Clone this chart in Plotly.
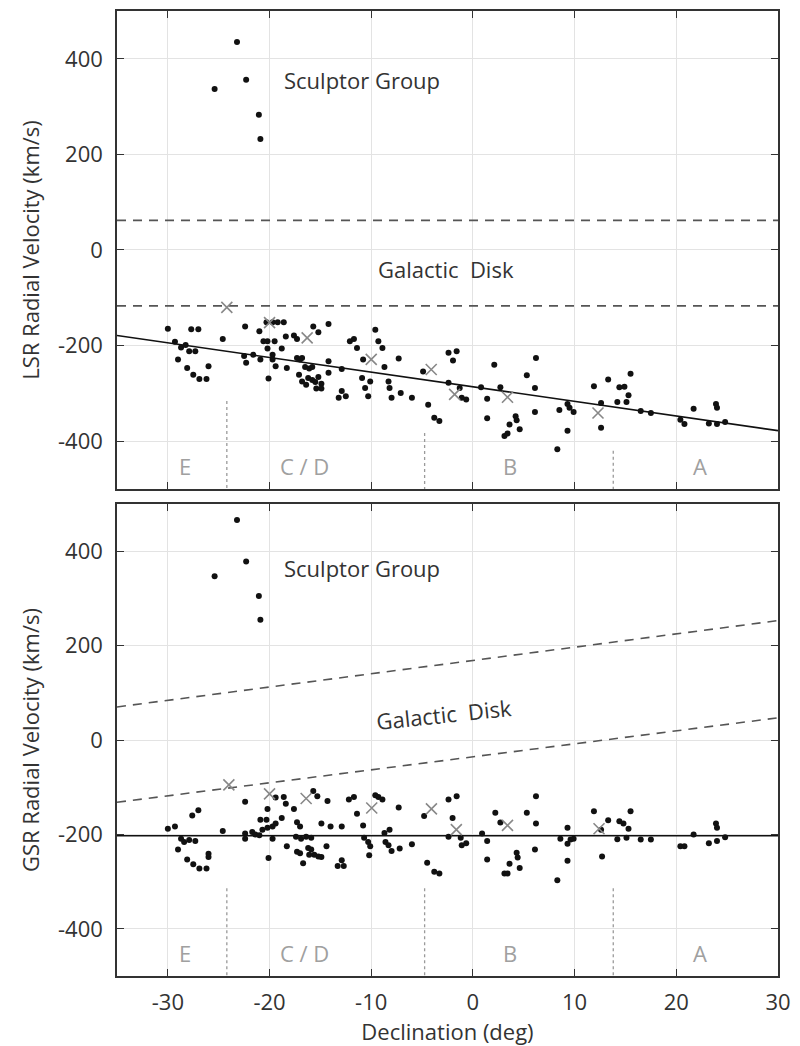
import plotly.graph_objects as go

# ---------------- data ----------------
lsr_dec = [-30.0, -29.3, -29.0, -28.7, -28.25, -27.9, -28.1, -27.7, -27.0, -27.3, -27.5, -26.9, -26.2, -26.0,
           -24.6, -22.4, -22.5, -22.3, -21.6, -21.0, -20.6, -20.2, -19.5, -20.3, -19.7, -19.2, -18.6, -20.2,
           -20.1, -19.7, -19.7, -20.9, -19.4, -18.8, -18.4, -18.3, -17.6, -17.3, -17.3, -17.0, -16.8, -17.1,
           -16.8, -16.4, -16.5, -16.1, -15.8, -16.2, -15.8, -15.5, -15.2, -14.9, -15.4, -14.9, -15.7, -15.2,
           -14.2, -14.2, -14.2, -13.2,
           -12.9, -12.5, -12.9, -12.1, -11.7, -11.4, -10.9, -10.6, -10.1, -10.3, -10.8, -9.6, -9.3, -8.9,
           -8.7, -8.3, -8.2, -8.0, -7.3, -7.1, -6.0, -4.9, -4.4, -3.8, -3.3, -2.4, -1.6, -1.96, -2.4, -1.3,
           -1.1, -0.66, 0.8, 1.4, 1.4, 2.1, 2.7, 3.1, 3.4, 3.6, 4.2, 4.3, 4.6, 5.3, 6.1, 6.1, 6.2, 8.3, 8.5,
           9.3, 9.5, 9.9, 9.3, 11.9, 12.6, 12.6, 13.3, 14.2, 14.4, 14.9, 15.1, 15.3, 15.5, 16.5, 17.5, 20.4,
           20.8, 21.7, 23.2, 24.0, 24.8, 23.9, 24.0]
lsr_vel = [-165, -192, -229, -204, -199, -212, -247, -166, -166, -212, -261, -270, -270, -243,
           -186, -160, -222, -236, -219, -170, -191, -191, -191, -151, -151, -151, -151, -206,
           -269, -219, -229, -229, -243, -206, -181, -247, -179, -186, -226, -229, -226, -261,
           -275, -282, -245, -248, -245, -268, -272, -276, -266, -280, -290, -290, -160, -172,
           -155, -233, -257, -309,
           -249, -306, -295, -191, -186, -205, -268, -289, -275, -306, -229, -167, -191, -205,
           -245, -275, -289, -309, -227, -299, -309, -254, -324, -351, -358, -215, -212, -231, -278, -289,
           -309, -313, -287, -311, -352, -240, -287, -389, -384, -365, -348, -356, -375, -262, -289, -339,
           -226, -417, -335, -322, -330, -339, -378, -285, -320, -372, -271, -318, -287, -286, -318, -304,
           -259, -337, -341, -355, -364, -332, -363, -364, -360, -322, -330]

gsr_dec = [-30.0, -29.3, -29.0, -28.7, -28.4, -27.9, -27.3, -28.1, -27.6, -27.0, -27.5, -26.9, -26.2, -26.0,
           -26.0, -24.6, -22.4, -22.4, -22.4, -21.7, -21.4, -21.0, -20.7, -20.2, -19.7, -19.4, -20.9, -20.3,
           -20.2, -20.1, -19.7, -19.4, -18.6, -18.4, -18.8, -18.3, -17.6, -17.3, -17.0, -17.4, -16.9, -16.4,
           -15.9, -17.3, -17.0, -16.7, -16.2, -15.9, -15.6, -15.2, -14.9, -16.1, -15.7, -15.3, -14.9, -14.3,
           -14.4, -14.0, -13.3,
           -12.9, -12.7, -12.9, -12.2, -11.7, -11.4, -10.8, -10.7, -10.3, -10.1, -10.2, -9.6, -9.3, -8.9,
           -8.7, -8.2, -8.6, -8.3, -8.0, -7.3, -7.2, -6.0, -4.8, -4.5, -3.8, -3.3, -2.4, -1.6, -2.0, -2.4,
           -1.2, -1.1, -0.66, 0.9, 1.4, 1.4, 2.2, 2.7, 3.1, 3.4, 3.6, 4.3, 4.4, 4.6, 5.3, 6.2, 6.2, 6.1, 8.3,
           8.6, 9.3, 9.3, 9.6, 9.9, 9.3, 11.9, 12.6, 12.7, 13.3, 14.2, 14.4, 14.8, 15.3, 15.1, 15.5, 16.5,
           17.5, 20.4, 20.8, 21.7, 23.2, 24.0, 24.8, 23.9, 24.0]
gsr_vel = [-188, -183, -232, -209, -216, -212, -214, -253, -160, -149, -263, -272, -272, -241,
           -248, -193, -131, -198, -209, -195, -200, -202, -190, -186, -183, -177, -169, -169,
           -146, -250, -209, -122, -121, -135, -165, -225, -146, -174, -183, -205, -209, -205,
           -207, -237, -240, -261, -229, -232, -243, -247, -248, -243, -108, -119, -177, -129,
           -225, -183, -267,
           -183, -267, -255, -126, -121, -156, -181, -207, -216, -225, -244, -117, -121, -126,
           -197, -190, -216, -223, -235, -143, -230, -221, -161, -260, -279, -283, -126, -119, -165, -205,
           -207, -223, -219, -198, -214, -253, -154, -175, -283, -283, -262, -239, -249, -271, -154, -119,
           -177, -232, -297, -209, -186, -220, -211, -209, -256, -151, -190, -247, -170, -210, -172, -177,
           -188, -207, -151, -211, -211, -225, -225, -200, -219, -214, -206, -177, -186]

scl_dec = [-23.2, -22.3, -25.4, -21.05, -20.9]
scl_lsr = [435, 356, 337, 283, 232]
scl_gsr = [466, 378, 347, 305, 255]

avg_dec_lsr = [-24.2, -20.0, -16.3, -10.0, -4.1, -1.8, 3.4, 12.3]
avg_lsr = [-120, -152, -184, -229, -250, -302, -308, -341]
avg_dec_gsr = [-24.0, -20.0, -16.4, -9.95, -4.08, -1.63, 3.4, 12.4]
avg_gsr = [-95, -114, -124, -144, -146, -190, -181, -188]

fit_dec = [-35, 30]
fit_lsr = [-179, -378]
fit_gsr = [-203, -203]

disk_dec = [-35, 30]
disk_lsr_hi = [62, 62]
disk_lsr_lo = [-117, -117]
disk_gsr_hi = [70, 253]
disk_gsr_lo = [-132, 47]

bound_dec = [-24.2, -4.75, 13.8]
bound_top_lsr = [-316, -383, -420]
bound_top_gsr = [-314, -314, -314]
bound_bottom = -500

region_labels = ["E", "C / D", "B", "A"]
region_dec = [-28.3, -16.6, 3.6, 22.3]
region_vel = -452

xticks = [-30, -20, -10, 0, 10, 20, 30]
xtick_labels = ["-30", "-20", "-10", "0", "10", "20", "30"]
yticks = [-400, -200, 0, 200, 400]
ytick_labels = ["-400", "-200", "0", "200", "400"]

# ---------------- figure ----------------
FONT = "Open Sans"
FS = 22
TXT = "#333333"
fig = go.Figure()

panels = [
    dict(xa="x", ya="y", dec=lsr_dec, vel=lsr_vel, scl=scl_lsr, adec=avg_dec_lsr, avel=avg_lsr,
         fit=fit_lsr, hi=disk_lsr_hi, lo=disk_lsr_lo, btop=bound_top_lsr),
    dict(xa="x2", ya="y2", dec=gsr_dec, vel=gsr_vel, scl=scl_gsr, adec=avg_dec_gsr, avel=avg_gsr,
         fit=fit_gsr, hi=disk_gsr_hi, lo=disk_gsr_lo, btop=bound_top_gsr),
]

for p in panels:
    xa, ya = p["xa"], p["ya"]
    for bx, bt in zip(bound_dec, p["btop"]):
        fig.add_trace(go.Scatter(x=[bx, bx], y=[bt, bound_bottom], mode="lines", xaxis=xa, yaxis=ya,
                                 line=dict(color="#9a9a9a", width=1.3, dash="dot"), showlegend=False,
                                 hoverinfo="skip"))
    for yy in (p["hi"], p["lo"]):
        fig.add_trace(go.Scatter(x=disk_dec, y=yy, mode="lines", xaxis=xa, yaxis=ya,
                                 line=dict(color="#555555", width=1.6, dash="9px,7px"), showlegend=False))
    fig.add_trace(go.Scatter(x=fit_dec, y=p["fit"], mode="lines", xaxis=xa, yaxis=ya,
                             line=dict(color="#111111", width=1.6), showlegend=False))
    fig.add_trace(go.Scatter(x=p["dec"], y=p["vel"], mode="markers", xaxis=xa, yaxis=ya,
                             marker=dict(color="#111111", size=6), showlegend=False))
    fig.add_trace(go.Scatter(x=scl_dec, y=p["scl"], mode="markers", xaxis=xa, yaxis=ya,
                             marker=dict(color="#111111", size=6), showlegend=False))
    fig.add_trace(go.Scatter(x=p["adec"], y=p["avel"], mode="markers", xaxis=xa, yaxis=ya,
                             marker=dict(symbol="x-thin-open", size=11, color="#888888",
                                         line=dict(color="#888888", width=1.6)), showlegend=False))
    for lab, rx in zip(region_labels, region_dec):
        fig.add_annotation(x=rx, y=region_vel, xref=xa, yref=ya, text=lab, showarrow=False,
                           font=dict(family=FONT, size=FS, color="#a0a0a0"))

fig.add_annotation(x=-18.8, y=356, xref="x", yref="y", text="Sculptor Group", showarrow=False,
                   xanchor="left", font=dict(family=FONT, size=FS, color=TXT))
fig.add_annotation(x=-2.6, y=-39, xref="x", yref="y", text="Galactic&nbsp;&nbsp;Disk", showarrow=False,
                   font=dict(family=FONT, size=FS, color=TXT))
fig.add_annotation(x=-18.8, y=365, xref="x2", yref="y2", text="Sculptor Group", showarrow=False,
                   xanchor="left", font=dict(family=FONT, size=FS, color=TXT))
fig.add_annotation(x=-2.8, y=56, xref="x2", yref="y2", text="Galactic&nbsp;&nbsp;Disk", showarrow=False,
                   textangle=-6, font=dict(family=FONT, size=FS, color=TXT))

axis_common = dict(range=[-35, 30], tickvals=xticks, ticktext=xtick_labels, ticks="inside", ticklen=7,
                   tickwidth=1.3, tickcolor="#333333", showline=True, linecolor="#333333", linewidth=1.6,
                   mirror="ticks", showgrid=True, gridcolor="#e3e3e3", gridwidth=1, zeroline=False,
                   tickfont=dict(family=FONT, size=FS, color=TXT), ticklabelstandoff=6)
yaxis_common = dict(range=[-500, 500], tickvals=yticks, ticktext=ytick_labels, ticks="inside", ticklen=7,
                    tickwidth=1.3, tickcolor="#333333", showline=True, linecolor="#333333", linewidth=1.6,
                    mirror="ticks", showgrid=True, gridcolor="#e3e3e3", gridwidth=1, zeroline=False,
                    tickfont=dict(family=FONT, size=FS, color=TXT), ticklabelstandoff=8)

fig.update_layout(
    width=800, height=1046,
    margin=dict(l=117, r=18, t=9, b=70),
    plot_bgcolor="white", paper_bgcolor="white",
    font=dict(family=FONT, color=TXT),
    xaxis=dict(axis_common, anchor="y", domain=[0, 1], showticklabels=False),
    yaxis=dict(yaxis_common, anchor="x", domain=[0.5047, 1],
               title=dict(text="LSR Radial Velocity (km/s)", font=dict(family=FONT, size=FS, color=TXT),
                          standoff=12)),
    xaxis2=dict(axis_common, anchor="y2", domain=[0, 1],
                title=dict(text="Declination (deg)", font=dict(family=FONT, size=FS, color=TXT), standoff=4)),
    yaxis2=dict(yaxis_common, anchor="x2", domain=[0, 0.4891],
                title=dict(text="GSR Radial Velocity (km/s)", font=dict(family=FONT, size=FS, color=TXT),
                           standoff=12)),
)

fig.write_html("out.html")
